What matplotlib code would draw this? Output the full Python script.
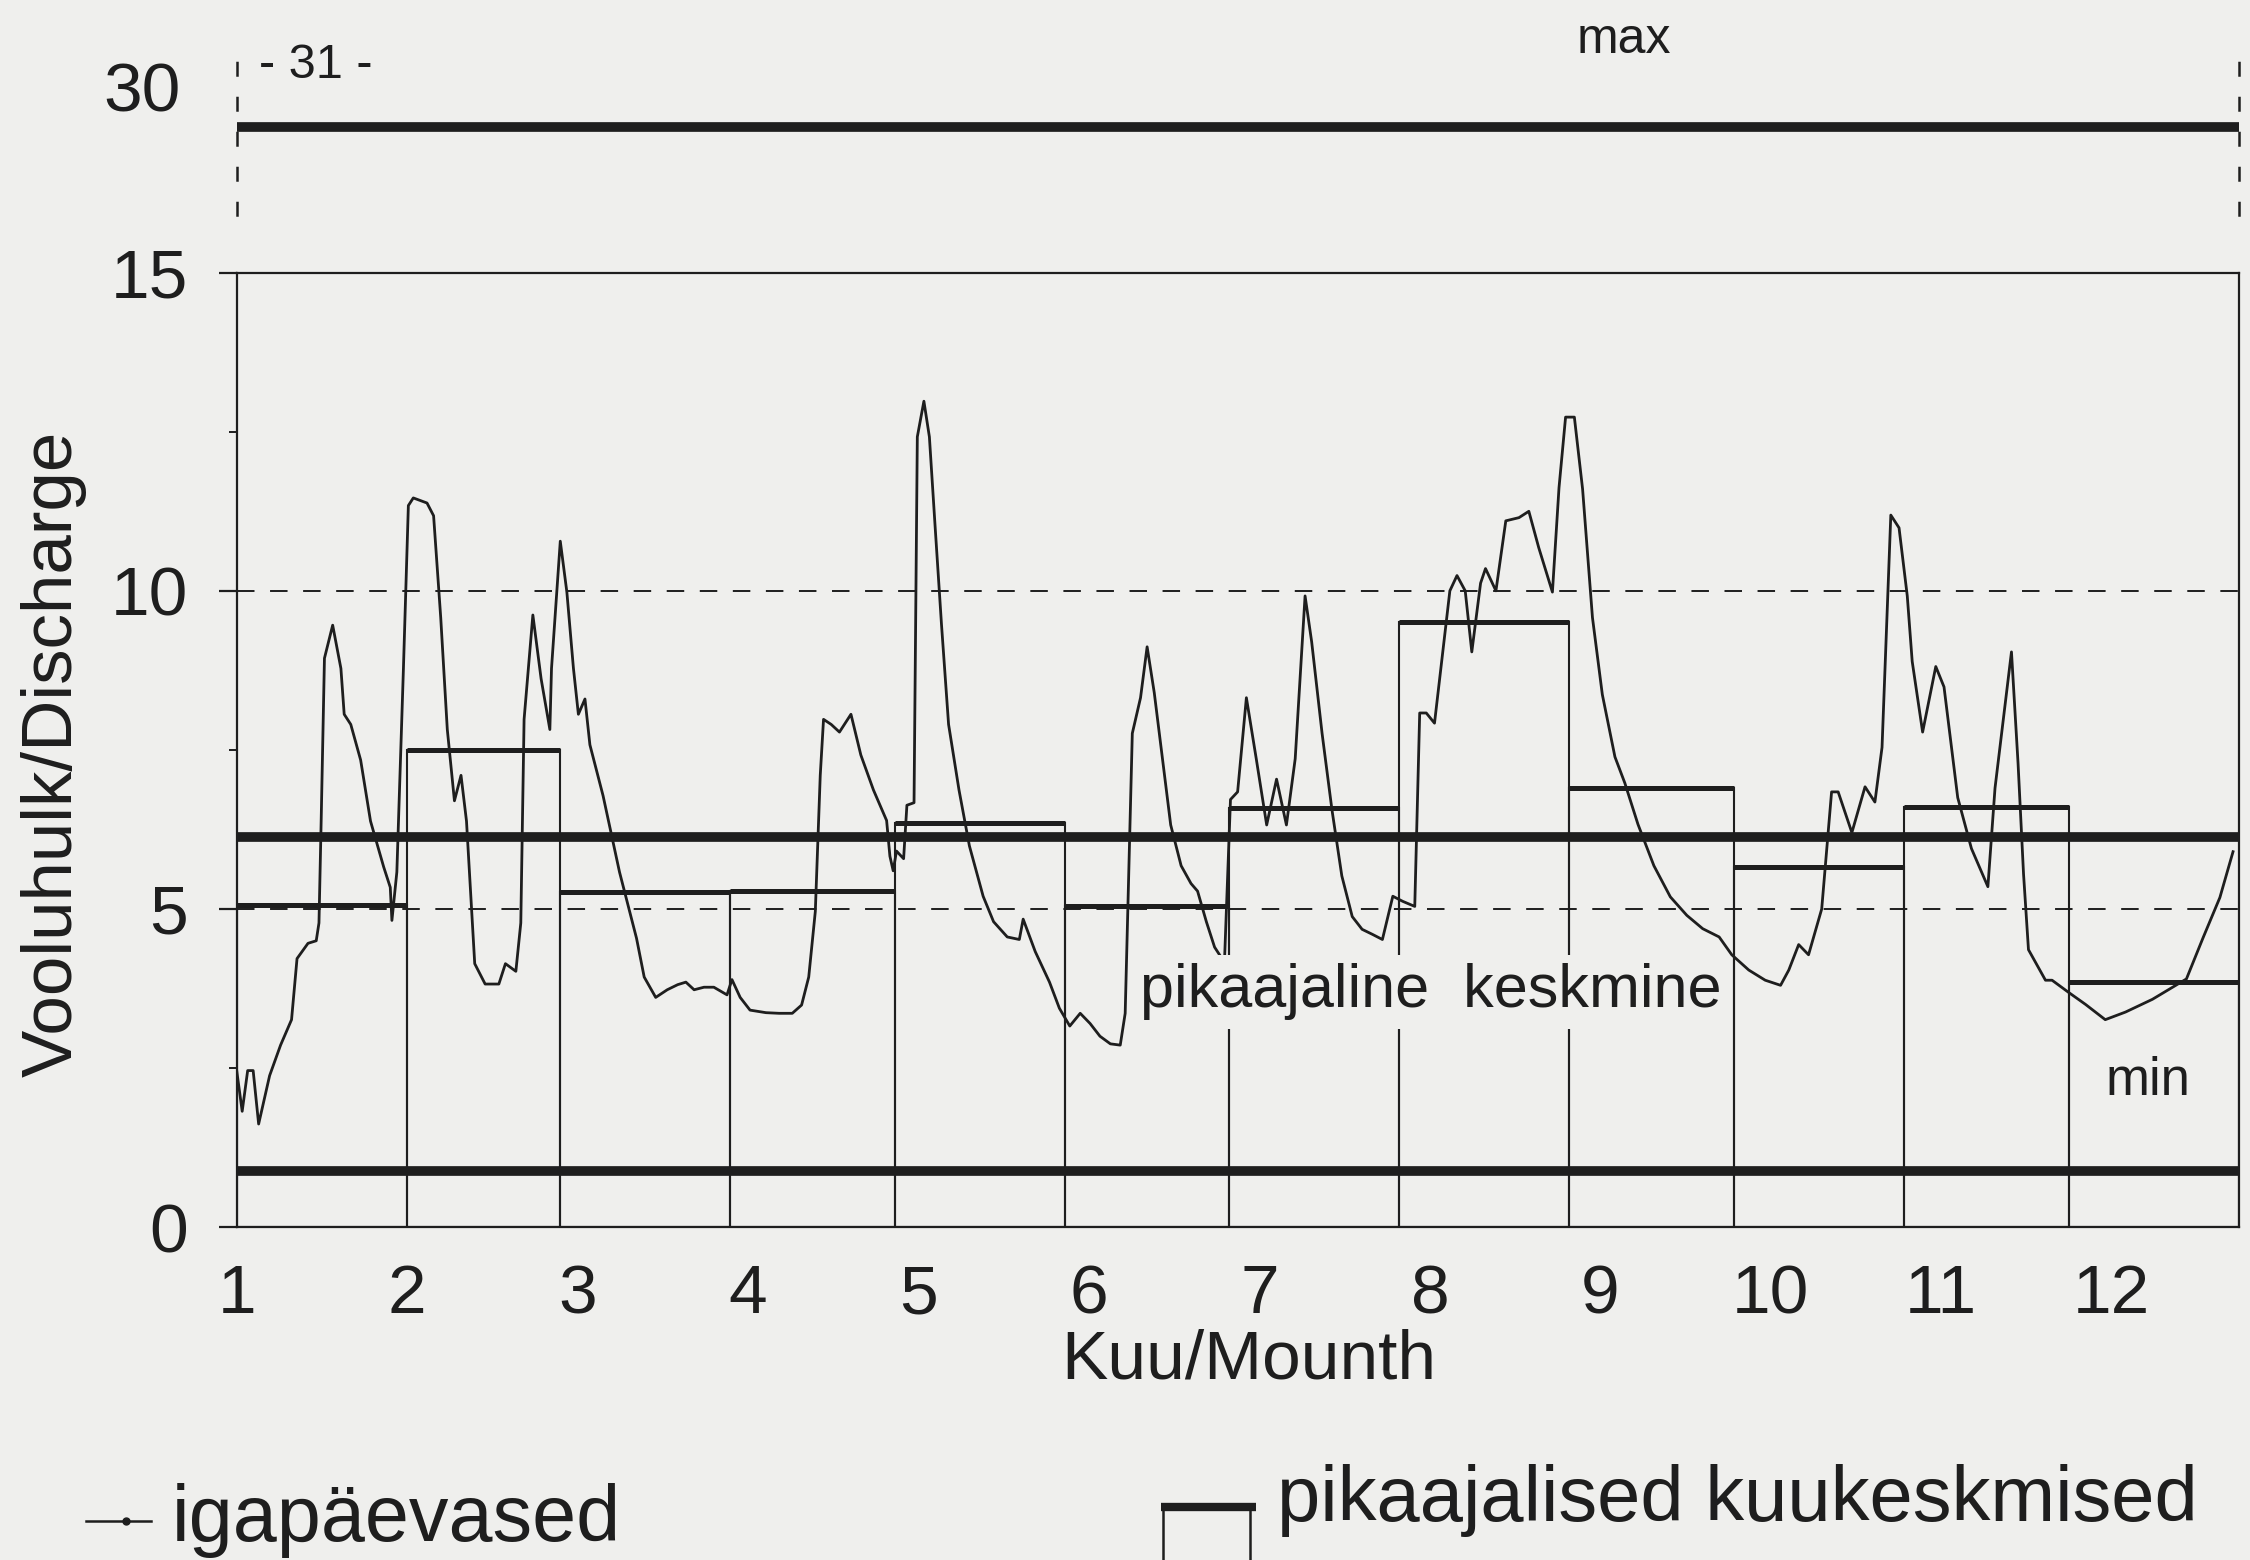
import matplotlib
matplotlib.use("Agg")
import matplotlib.pyplot as plt
from matplotlib.lines import Line2D
import numpy as np

plt.rcParams['font.family'] = ['Liberation Sans', 'DejaVu Sans']

# ---------------- data ----------------
month_labels = ["1", "2", "3", "4", "5", "6", "7", "8", "9", "10", "11", "12"]
month_start = [1, 32, 60, 91, 121, 152, 182, 213, 244, 274, 305, 335]
month_len = [31, 28, 31, 30, 31, 30, 31, 31, 30, 31, 30, 31]
month_mean = [5.06, 7.5, 5.26, 5.28, 6.35, 5.04, 6.58, 9.51, 6.9, 5.66, 6.6, 3.85]

long_mean = 6.13
q_min = 0.88
q_max = 28.44
grid_levels = [5, 10]

days = [1, 2, 3, 4, 5, 7, 9, 11, 12, 14, 15.5, 16, 16.4, 17, 18.5, 20, 20.6, 21.8, 23.6, 25.4,
        27.8, 29, 29.3, 30.2, 30.8, 31.4, 32.3, 33.2, 35.7, 36.9, 38.2, 39.4, 40.7, 41.9, 42.9,
        44.4, 46.3, 48.8, 50, 51.9, 52.8, 53.4, 55, 56.5, 58.1, 58.4, 60, 61.2, 62.4, 63.3,
        64.5, 65.4, 67.8, 70.8, 73.9,
        75.3, 77.4, 79.5, 81.4, 82.9, 84.4, 86.2, 88, 90.4, 91.3, 92.8, 94.6, 97.5, 99.9, 102.3,
        104, 105.3, 106.5, 107.4, 108, 109.4, 110.9, 113, 114.8, 117.1, 119.5, 120.1, 120.7,
        121.3, 122.6, 123.2, 124.5, 124.8, 125.1, 126.3, 127.3, 128.3, 129.5, 130.8, 132.7,
        134.6, 137.1, 139, 141.5, 143.7, 144.4, 146.6, 149.2,
        151, 152.9, 154.8, 156.6, 158.4, 160.3, 162.1, 163, 163.6, 164.3, 165.8, 167, 168.3,
        169.8, 171.3, 173.2, 175, 176.2, 177.8, 179.3, 181.1, 182.2, 183.5, 185.1, 186.9, 188.8,
        190.6, 192.4, 194, 195.8, 197, 198.9, 200.7, 202.5, 204.4, 206.2, 208.1, 209.9, 211.8,
        213.6, 215.8, 216.7, 217.9, 219.4, 220.7, 222.2, 223.5, 225, 226.2, 227.8,
        228.7, 230.6, 232.4, 234.8, 236.6, 238.4, 240.9, 242.1, 243.3, 244.9, 246.4, 248.2, 250,
        252.3, 254.1, 256.5, 259.4, 262.4, 265.4, 268.3, 271.3, 273.6, 276.7, 279.7, 282.5, 284,
        285.8, 287.6, 290, 291.8, 293, 295.5, 297.9, 299.7,
        301, 302.6, 304.1, 305.6, 306.5, 308.4, 310.8, 312.3, 314.8, 317.3, 320.3, 321.6, 324.6,
        325.8, 326.8, 327.7, 330.8, 332, 335, 338.1, 341.7, 345.4, 350.3, 356.5, 359.5, 362.6, 365]

daily_q = [2.46, 1.82, 2.46, 2.46, 1.62, 2.38, 2.86, 3.26, 4.22, 4.46, 4.5, 4.78, 6.38, 8.94, 9.46,
           8.78, 8.06, 7.9, 7.34, 6.38, 5.66, 5.34, 4.82, 5.58, 7.18, 8.78, 11.34, 11.46, 11.38,
           11.18, 9.58, 7.82, 6.7, 7.1, 6.38, 4.14, 3.82, 3.82, 4.14, 4.02, 4.78, 7.98, 9.62, 8.62,
           7.82, 8.78, 10.78, 9.98, 8.78, 8.06, 8.3, 7.58, 6.78, 5.58, 4.54,
           3.93, 3.61, 3.73, 3.81, 3.85, 3.73, 3.77, 3.77, 3.65, 3.89, 3.61, 3.41, 3.37, 3.36, 3.36,
           3.49, 3.93, 4.96, 7.1, 7.98, 7.9, 7.78, 8.06, 7.42, 6.87, 6.39, 5.83, 5.6, 5.91, 5.79,
           6.63, 6.67, 9.48, 12.42, 12.98, 12.42, 11.07, 9.48, 7.9, 6.87, 5.99, 5.2, 4.8, 4.56,
           4.52, 4.84, 4.33, 3.85,
           3.44, 3.16, 3.36, 3.2, 3.0, 2.88, 2.86, 3.36, 5.36, 7.76, 8.32, 9.12, 8.4, 7.36, 6.32,
           5.68, 5.4, 5.28, 4.8, 4.4, 4.16, 6.72, 6.84, 8.32, 7.36, 6.32, 7.04, 6.32, 7.36, 9.92,
           9.2, 7.76, 6.56, 5.52, 4.88, 4.68, 4.6, 4.52, 5.2, 5.12, 5.04, 8.08, 8.08, 7.92, 8.88,
           10.0, 10.24, 10.0, 9.04, 10.12,
           10.35, 10.0, 11.1, 11.15, 11.25, 10.68, 9.98, 11.62, 12.73, 12.73, 11.6, 9.58, 8.37,
           7.39, 6.98, 6.33, 5.68, 5.19, 4.9, 4.69, 4.56, 4.28, 4.04, 3.88, 3.8, 4.04, 4.44, 4.28,
           5.0, 6.84, 6.84, 6.2, 6.92, 6.68,
           7.54, 11.19, 10.99, 9.92, 8.89, 7.78, 8.81, 8.49, 6.75, 5.95, 5.35, 6.9, 9.04, 7.29,
           5.55, 4.36, 3.88, 3.88, 3.69, 3.5, 3.26, 3.38, 3.58, 3.9, 4.54, 5.18, 5.9]

# ---------------- style ----------------
BG = '#efefed'
INK = '#1e1e1e'
TICK_FS = 50

fig = plt.figure(figsize=(22.5, 15.6), dpi=100, facecolor=BG)

# lower (main) axes
ax = fig.add_axes([0.1052, 0.2134, 0.8897, 0.6118])
ax.set_facecolor(BG)
ax.set_xlim(1, 366)
ax.set_ylim(0, 15)

for lv in grid_levels:
    ax.axhline(lv, color=INK, lw=1.4, ls=(0, (9, 8)), zorder=1)

ax.bar(month_start, month_mean, width=month_len, align='edge', fill=False,
       edgecolor=INK, linewidth=1.5, zorder=2)
ax.hlines(month_mean, np.array(month_start), np.array(month_start) + np.array(month_len),
          color=INK, lw=3.6, zorder=3)

ax.axhline(long_mean, color=INK, lw=7, zorder=4)
ax.axhline(q_min, color=INK, lw=7, zorder=4)

ax.plot(days, daily_q, color=INK, lw=2.0, zorder=5)

ax.text(218.7, 3.7, "pikaajaline  keskmine", fontsize=44, color=INK, ha='center', va='center',
        zorder=6, bbox=dict(facecolor=BG, edgecolor='none', pad=6))
ax.text(349.5, 2.3, "min", fontsize=38, color=INK, ha='center', va='center', zorder=6)

for sp in ax.spines.values():
    sp.set_color(INK)
    sp.set_linewidth(1.6)

ax.set_yticks([0, 5, 10, 15])
ax.set_yticks([2.5, 7.5, 12.5], minor=True)
ax.tick_params(axis='y', which='major', direction='out', length=13, width=1.6,
               labelsize=TICK_FS, pad=22, colors=INK)
ax.tick_params(axis='y', which='minor', direction='out', length=6, width=1.4, colors=INK)

ax.set_xticks(1 + 31.08 * np.arange(len(month_labels)))
ax.set_xticklabels(month_labels)
ax.tick_params(axis='x', length=0, labelsize=TICK_FS, pad=26, colors=INK)

# upper (broken) axes for the maximum
ax2 = fig.add_axes([0.1052, 0.862, 0.8897, 0.101])
ax2.set_facecolor('none')
ax2.patch.set_alpha(0)
ax2.set_xlim(1, 366)
ax2.set_ylim(25, 31.11)
ax2.axhline(q_max, color=INK, lw=7)
ax2.spines['top'].set_visible(False)
ax2.spines['bottom'].set_visible(False)
for side in ('left', 'right'):
    ax2.spines[side].set_linestyle((0, (5, 9)))
    ax2.spines[side].set_linewidth(1.8)
    ax2.spines[side].set_color(INK)
ax2.set_xticks([])
ax2.set_yticks([30])
ax2.tick_params(axis='y', length=0, labelsize=TICK_FS, pad=40, colors=INK)
ax2.text(5, 30.8, "- 31 -", fontsize=35, color=INK, ha='left', va='center')
ax2.text(0.693, 31.78, "max", transform=ax2.get_yaxis_transform(), fontsize=36,
         color=INK, ha='center', va='center', clip_on=False)

# axis titles
fig.text(0.555, 0.128, "Kuu/Mounth", fontsize=50, color=INK, ha='center', va='center')
fig.text(0.024, 0.517, "Vooluhulk/Discharge", fontsize=51, color=INK, ha='center',
         va='center', rotation=90)

# legend
fig.add_artist(Line2D([0.038, 0.067], [0.025, 0.025], color=INK, lw=1.8,
                      transform=fig.transFigure))
fig.add_artist(Line2D([0.0562], [0.025], color=INK, marker='o', markersize=5, lw=0,
                      transform=fig.transFigure))
fig.text(0.0765, 0.025, "igapäevased", fontsize=57, color=INK, ha='left', va='center')

fig.add_artist(Line2D([0.5160, 0.5580], [0.034, 0.034], color=INK, lw=6,
                      solid_capstyle='butt', transform=fig.transFigure))
fig.add_artist(Line2D([0.5170, 0.5170], [0.034, 0.0], color=INK, lw=1.8,
                      transform=fig.transFigure))
fig.add_artist(Line2D([0.5555, 0.5555], [0.034, 0.0], color=INK, lw=1.8,
                      transform=fig.transFigure))
fig.text(0.5676, 0.038, "pikaajalised kuukeskmised", fontsize=56, color=INK,
         ha='left', va='center')

fig.savefig("out.png", dpi=100, facecolor=BG)
